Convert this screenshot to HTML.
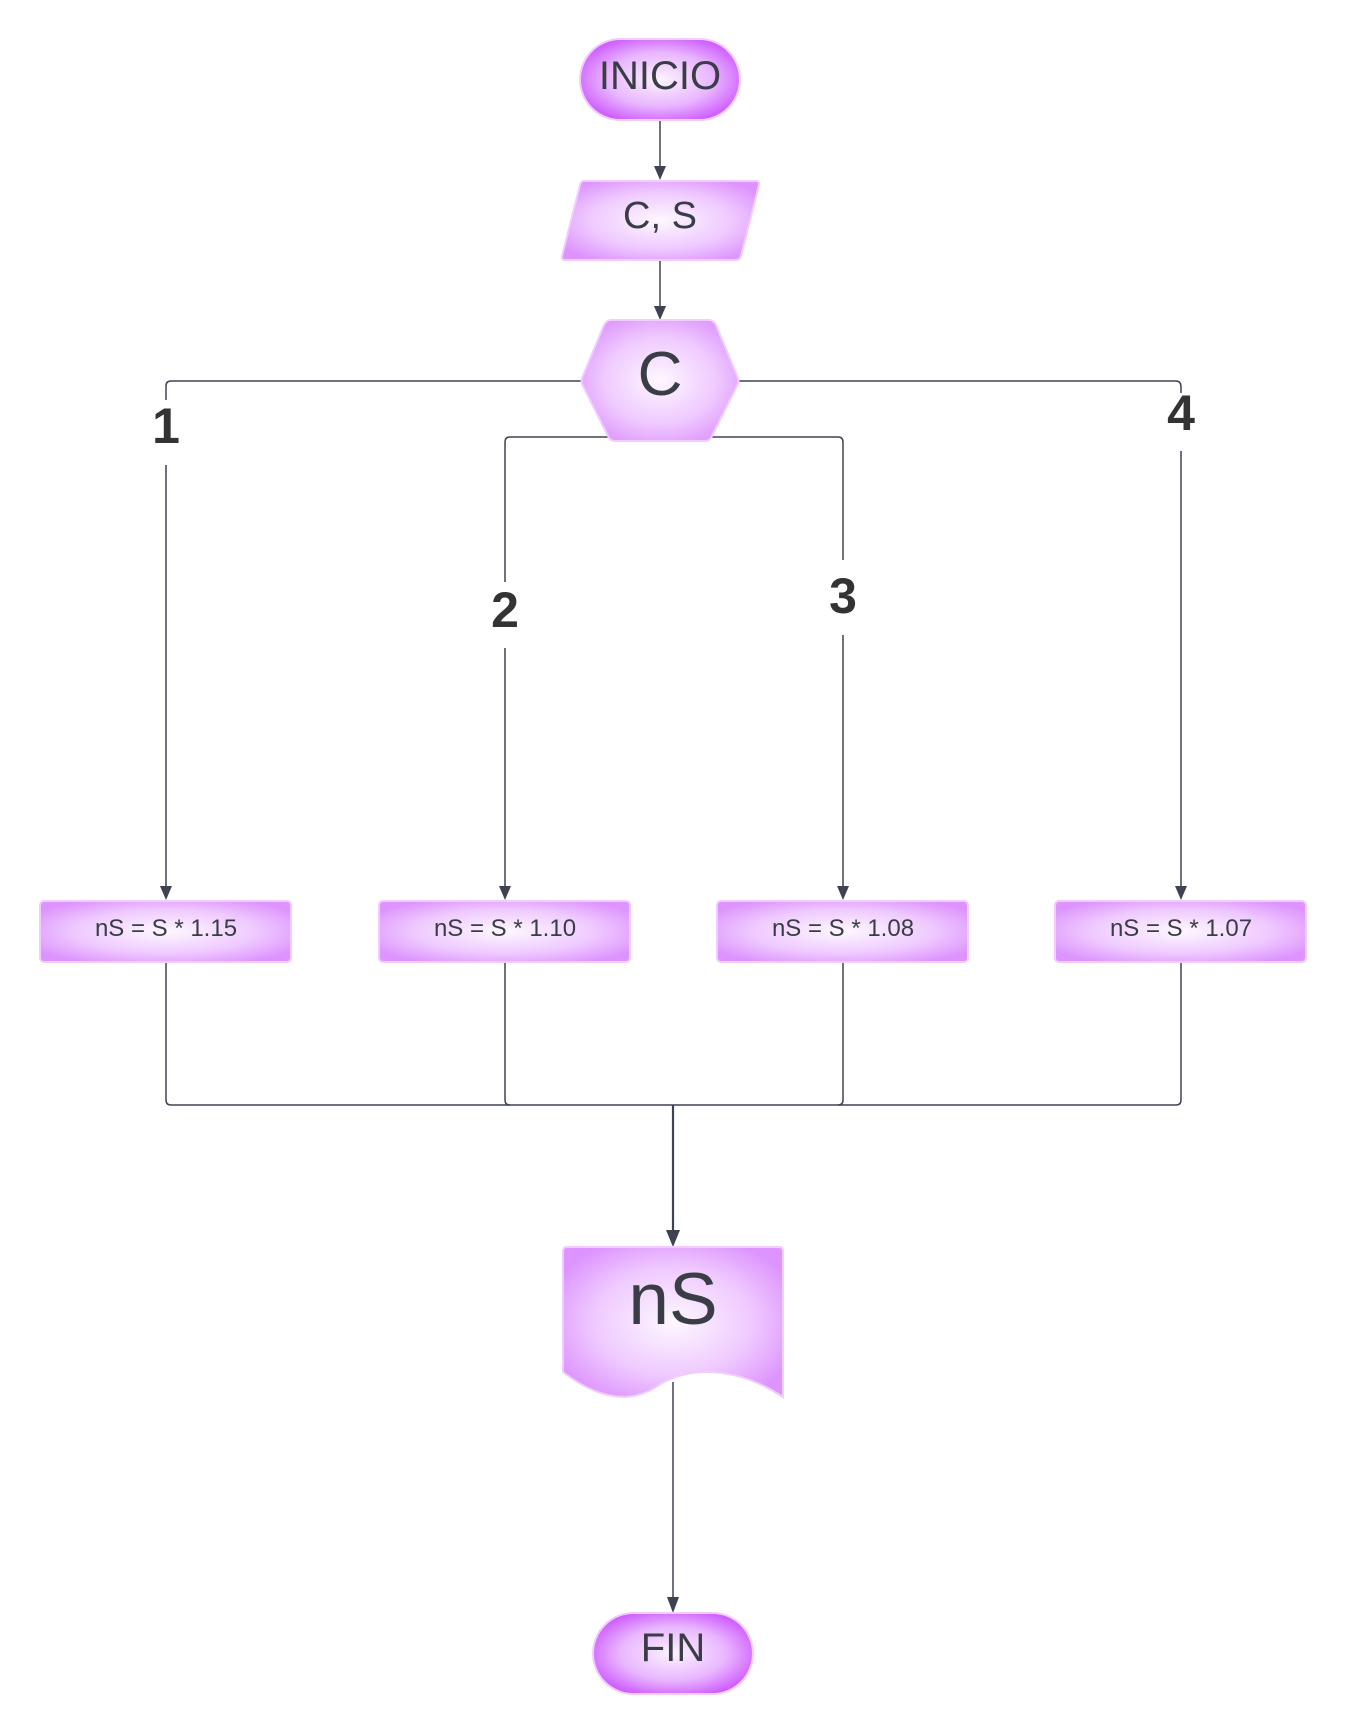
<!DOCTYPE html>
<html><head><meta charset="utf-8"><style>
html,body{margin:0;padding:0;background:#fff;}
svg{display:block;}
text{font-family:"Liberation Sans",sans-serif;fill:#3a3d46;}
</style></head><body>
<svg width="1347" height="1736" viewBox="0 0 1347 1736" xmlns="http://www.w3.org/2000/svg">
<defs>
<radialGradient id="gp" cx="50%" cy="50%" r="60%">
<stop offset="0" stop-color="#fbf3ff"/><stop offset="0.55" stop-color="#e9b6ff"/><stop offset="1" stop-color="#c94cff"/>
</radialGradient>
<radialGradient id="gb" cx="50%" cy="50%" r="60%">
<stop offset="0" stop-color="#fdf8ff"/><stop offset="0.6" stop-color="#efc9ff"/><stop offset="1" stop-color="#dd94fe"/>
</radialGradient>
</defs>
<g fill="none" stroke="#3d4350" stroke-width="1.5">
<line x1="660" y1="120" x2="660" y2="168"/>
<line x1="660" y1="260" x2="660" y2="307"/>
<path d="M581,381 H171 Q166,381 166,386 V400"/>
<line x1="166" y1="465" x2="166" y2="888"/>
<path d="M739,381 H1176 Q1181,381 1181,387 V393"/>
<line x1="1181" y1="451" x2="1181" y2="888"/>
<path d="M611,437 H510 Q505,437 505,442 V582"/>
<line x1="505" y1="648" x2="505" y2="888"/>
<path d="M712,437 H838 Q843,437 843,442 V560"/>
<line x1="843" y1="635" x2="843" y2="888"/>
<path d="M166,962 V1100 Q166,1105 171,1105 H1176 Q1181,1105 1181,1100 V962"/>
<path d="M505,962 V1100 Q505,1105 510,1105"/>
<path d="M843,962 V1100 Q843,1105 838,1105"/>
<line x1="673" y1="1105" x2="673" y2="1232" stroke-width="2.2"/>
<line x1="673" y1="1382" x2="673" y2="1598"/>
</g>
<g fill="#3d4350">
<path d="M654,166 L666,166 L660,180 Z"/>
<path d="M654,306 L666,306 L660,320 Z"/>
<path d="M160,886 L172,886 L166,900 Z"/>
<path d="M499,886 L511,886 L505,900 Z"/>
<path d="M837,886 L849,886 L843,900 Z"/>
<path d="M1175,886 L1187,886 L1181,900 Z"/>
<path d="M666,1230 L680,1230 L673,1247 Z"/>
<path d="M667,1597 L679,1597 L673,1613 Z"/>
</g>
<rect x="580" y="39" width="160" height="81" rx="40.5" fill="url(#gp)" stroke="#f1cdfd" stroke-width="2"/>
<text x="660" y="89" font-size="40" text-anchor="middle">INICIO</text>
<path d="M584,181 H756 Q760,181 759,185 L741,256 Q740,260 736,260 H565 Q561,260 562,256 L580,185 Q581,181 584,181 Z" fill="url(#gb)" stroke="#f1cdfd" stroke-width="2"/>
<text x="660" y="228" font-size="38" text-anchor="middle">C, S</text>
<path d="M611,320 H709 Q713,320 716,325 L738,378 Q739,381 738,384 L712,436 Q710,441 705,441 H615 Q610,441 608,436 L582,384 Q581,381 582,378 L604,325 Q607,320 611,320 Z" fill="url(#gb)" stroke="#f1cdfd" stroke-width="2"/>
<text x="660" y="395" font-size="62" text-anchor="middle">C</text>
<g font-weight="bold" font-size="50" text-anchor="middle">
<text x="166" y="443" style="fill:#333">1</text>
<text x="505" y="627" style="fill:#333">2</text>
<text x="843" y="613" style="fill:#333">3</text>
<text x="1181" y="430" style="fill:#333">4</text>
</g>
<g stroke="#f1cdfd" stroke-width="2" fill="url(#gb)">
<rect x="40" y="901" width="251" height="61" rx="4"/>
<rect x="379" y="901" width="251" height="61" rx="4"/>
<rect x="717" y="901" width="251" height="61" rx="4"/>
<rect x="1055" y="901" width="251" height="61" rx="4"/>
</g>
<g font-size="24" text-anchor="middle">
<text x="166" y="936">nS = S * 1.15</text>
<text x="505" y="936">nS = S * 1.10</text>
<text x="843" y="936">nS = S * 1.08</text>
<text x="1181" y="936">nS = S * 1.07</text>
</g>
<path d="M567,1247 H779 Q783,1247 783,1251 V1397 Q745,1372 707,1372 Q682,1372 662,1383 Q645,1396 625,1397 Q595,1397 563,1372 V1251 Q563,1247 567,1247 Z" fill="url(#gb)" stroke="#f1cdfd" stroke-width="2"/>
<text x="673" y="1324" font-size="73" text-anchor="middle">nS</text>
<rect x="593" y="1613" width="160" height="81" rx="40.5" fill="url(#gp)" stroke="#f1cdfd" stroke-width="2"/>
<text x="673" y="1661" font-size="40" text-anchor="middle">FIN</text>
</svg>
</body></html>
